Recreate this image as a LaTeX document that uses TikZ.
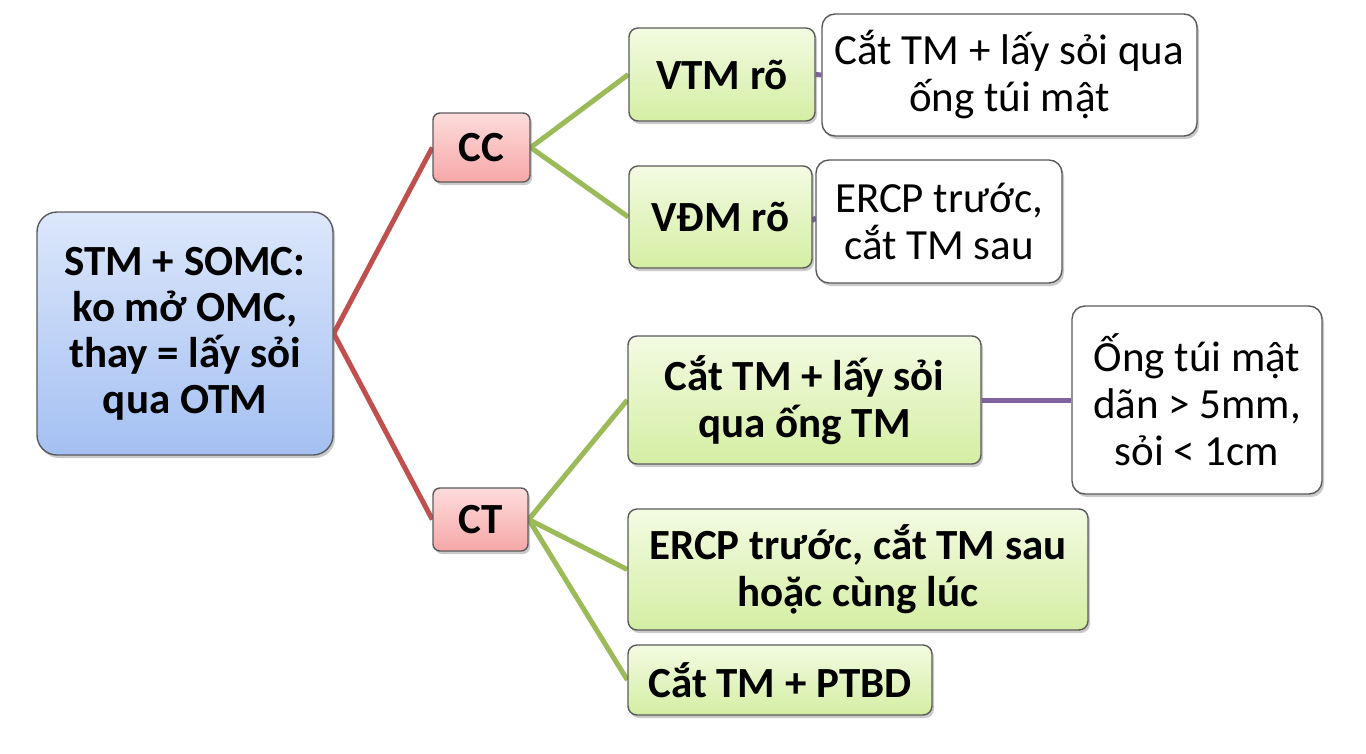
\documentclass[tikz,border=0pt]{standalone}
\usepackage{fontspec}
\setmainfont{Carlito}
\usetikzlibrary{shadows,backgrounds}
\definecolor{redline}{HTML}{C0504D}
\definecolor{greenline}{HTML}{9BBB59}
\definecolor{purpleline}{HTML}{8064A2}
\definecolor{bluetop}{HTML}{DCE7FB}
\definecolor{bluebot}{HTML}{A4C0F2}
\definecolor{pinktop}{HTML}{FDDCDC}
\definecolor{pinkbot}{HTML}{F7A7A7}
\definecolor{greentop}{HTML}{F3FBE2}
\definecolor{greenbot}{HTML}{D4EEA3}
\definecolor{edgegray}{HTML}{5A5A5A}
\tikzset{
  box/.style={draw=edgegray, line width=1.4pt, inner sep=0pt, align=center,
    font=\fontsize{43}{47}\selectfont,
    drop shadow={shadow xshift=2pt, shadow yshift=-3pt, opacity=0.35, fill=black!60}},
  rootbox/.style={box, rounded corners=20pt, top color=bluetop, bottom color=bluebot, font=\bfseries\fontsize{43}{46}\selectfont},
  pinkbox/.style={box, rounded corners=7pt, top color=pinktop, bottom color=pinkbot, font=\bfseries\fontsize{43}{47}\selectfont},
  greenbox/.style={box, rounded corners=9pt, top color=greentop, bottom color=greenbot, font=\bfseries\fontsize{43}{47}\selectfont},
  whitebox/.style={box, rounded corners=13pt, fill=white},
  redc/.style={draw=redline, line width=5pt},
  greenc/.style={draw=greenline, line width=5pt},
  purplec/.style={draw=purpleline, line width=5pt},
}
\begin{document}
\begin{tikzpicture}[x=1pt,y=-1pt]
\useasboundingbox (0,0) rectangle (1366,753);
\node[rootbox, minimum width=296pt, minimum height=243pt] (root) at (185,333.5) {STM + SOMC:\\ko mở OMC,\\thay = lấy sỏi\\qua OTM};
\node[pinkbox, minimum width=97pt, minimum height=69pt] (cc) at (481.5,147.5) {CC};
\node[pinkbox, minimum width=95pt, minimum height=63pt] (ct) at (480.5,519.5) {CT};
\node[greenbox, minimum width=186pt, minimum height=93pt] (vtm) at (722,74.5) {VTM rõ};
\node[greenbox, minimum width=183pt, minimum height=102pt] (vdm) at (720.5,217) {VĐM rõ};
\node[greenbox, minimum width=353pt, minimum height=128pt] (a) at (804.5,400) {Cắt TM + lấy sỏi\\qua ống TM};
\node[greenbox, minimum width=460pt, minimum height=121pt] (b) at (858,569.5) {ERCP trước, cắt TM sau\\hoặc cùng lúc};
\node[greenbox, minimum width=304pt, minimum height=70pt] (c) at (780,680) {Cắt TM + PTBD};
\node[whitebox, minimum width=375pt, minimum height=122pt] (w1) at (1009.5,75) {Cắt TM + lấy sỏi qua\\ống túi mật};
\node[whitebox, minimum width=246pt, minimum height=123pt] (w2) at (939,221.5) {ERCP trước,\\cắt TM sau};
\node[whitebox, minimum width=250pt, minimum height=188pt] (w3) at (1197,400) {Ống túi mật\\dãn > 5mm,\\sỏi < 1cm};
\begin{scope}[on background layer]
\draw[redc] (root.east) -- (cc.west);
\draw[redc] (root.east) -- (ct.west);
\draw[greenc] (cc.east) -- (vtm.west);
\draw[greenc] (cc.east) -- (vdm.west);
\draw[greenc] (ct.east) -- (a.west);
\draw[greenc] (ct.east) -- (b.west);
\draw[greenc] (ct.east) -- (c.west);
\draw[purplec] (vtm.east) -- (w1.west);
\draw[purplec] (vdm.east) -- (w2.west);
\draw[purplec] (a.east) -- (w3.west);
\end{scope}
\end{tikzpicture}
\end{document}
